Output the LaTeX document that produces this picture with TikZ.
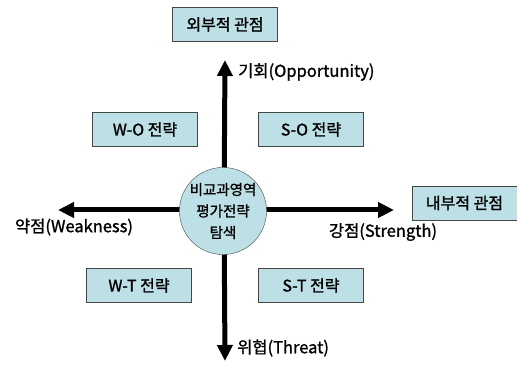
\documentclass[tikz,border=0pt]{standalone}
\usepackage{fontspec}
\setmainfont{Noto Sans CJK KR}[FakeBold=1.3]
\usetikzlibrary{arrows.meta}
\definecolor{boxblue}{RGB}{188, 224, 229}
\definecolor{edgegray}{RGB}{70, 70, 70}

\begin{document}
\begin{tikzpicture}[x=1pt, y=-1pt,
    view/.style={draw=edgegray, fill=boxblue, minimum width=105pt, minimum height=34pt, inner sep=0pt, font=\fontsize{16}{18}\selectfont},
    hub/.style={circle, draw=edgegray, fill=boxblue, minimum size=80pt, inner sep=0pt, align=center, font=\fontsize{14.5}{21.5}\selectfont},
    axis/.style={line width=5pt, -{Triangle[length=16pt, width=15pt]}},
    axislabel/.style={font=\fontsize{16.5}{18}\selectfont, inner sep=0pt}]
        \useasboundingbox (0,0) rectangle (517,371);

        % Axes through the centre
        \coordinate (core) at (224,210);
        \coordinate (up) at (225,60);
        \coordinate (down) at (225,361);
        \coordinate (left) at (58,210);
        \coordinate (right) at (394,210);
        \draw[axis] (core) -- (up);
        \draw[axis] (core) -- (down);
        \draw[axis] (core) -- (left);
        \draw[axis] (core) -- (right);
        \node[hub] (hub) at (223,211) {비교과영역\\평가전략\\탐색};

        \node[axislabel, anchor=west] (opp) at (238,72) {기회(Opportunity)};
        \node[axislabel, anchor=west] (thr) at (237,348) {위협(Threat)};
        \node[axislabel] (weak) at (74,227) {약점(Weakness)};
        \node[axislabel] (str) at (383,232) {강점(Strength)};

        % Viewpoints
        \node[view] (ext) at (225,24.5) {외부적 관점};
        \node[view] (int) at (464.5,203) {내부적 관점};

        % Strategy boxes
        \node[view] (wo) at (145,129.5) {W-O 전략};
        \node[view] (so) at (311,129.5) {S-O 전략};
        \node[view] (wt) at (139,285.5) {W-T 전략};
        \node[view] (st) at (311,285.5) {S-T 전략};
      \end{tikzpicture}
\end{document}
